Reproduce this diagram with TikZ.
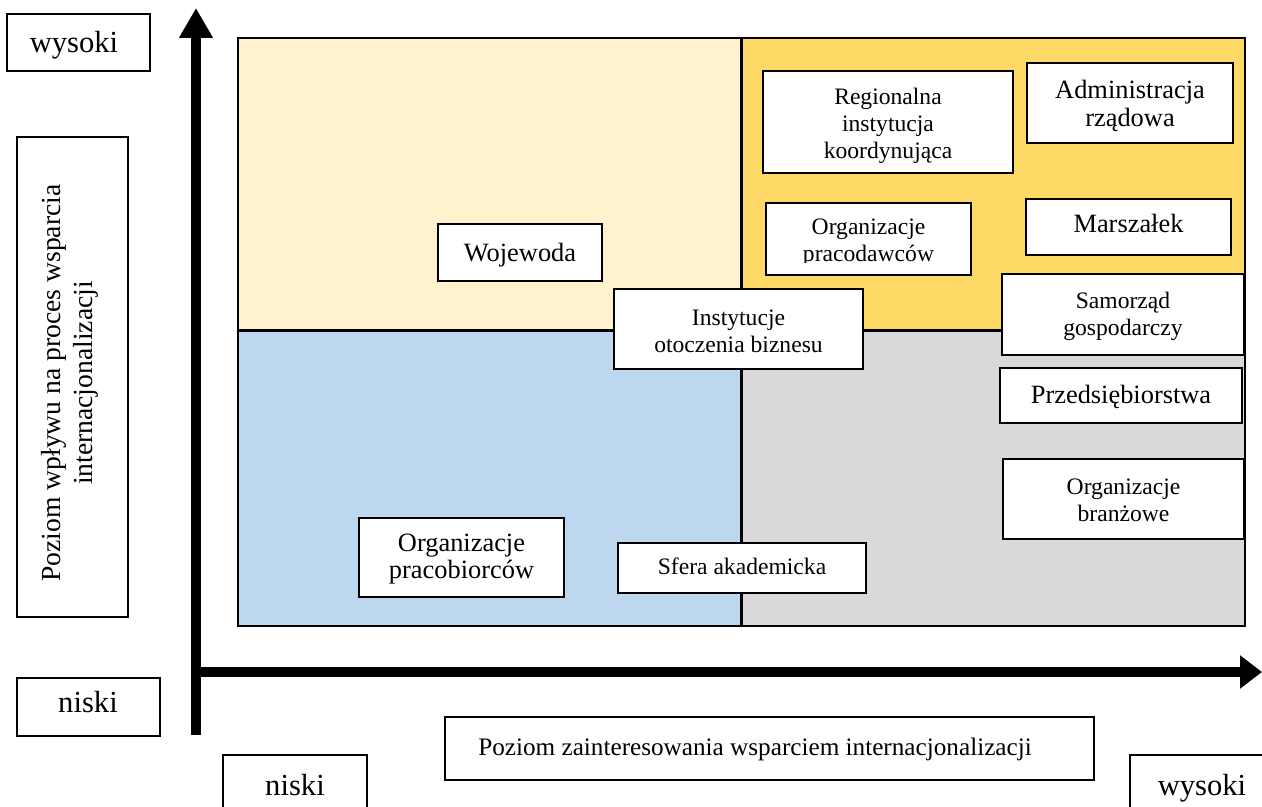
\documentclass[tikz,border=0pt]{standalone}
\usepackage{fontspec}
\setmainfont{Liberation Serif}
\usetikzlibrary{arrows.meta}
\definecolor{qtl}{HTML}{FFF2CC}
\definecolor{qtr}{HTML}{FFD966}
\definecolor{qbl}{HTML}{BDD7EE}
\definecolor{qbr}{HTML}{D9D9D9}
\begin{document}
\begin{tikzpicture}[x=0.5pt,y=-0.5pt,
  box/.style={draw=black, line width=1pt, fill=white, inner sep=0pt, align=center},
  sz/.style 2 args={minimum width=#1*0.5pt, minimum height=#2*0.5pt},
  big/.style={font=\fontsize{13.2}{14}\selectfont},
  small/.style={font=\fontsize{11.8}{13.5}\selectfont},
  corner/.style={font=\fontsize{15.3}{17}\selectfont, inner sep=0pt, anchor=base},
  txt/.style={inner sep=0pt, align=center},
  axisarrow/.style={line width=5pt, draw=black}]
\clip (0,0) rectangle (1262,807);
% quadrants
\fill[qtl] (238,38) rectangle (741,331);
\fill[qtr] (741,38) rectangle (1245,331);
\fill[qbl] (238,331) rectangle (741,626);
\fill[qbr] (741,331) rectangle (1245,626);
\draw[line width=1.5pt] (741,38) -- (741,626);
\draw[line width=1.5pt] (238,331) -- (1245,331);
\draw[line width=1.2pt] (238,38) rectangle (1245,626);
% axes
\coordinate (yb) at (196,735);
\coordinate (yt) at (196,8);
\coordinate (xl) at (191,672);
\coordinate (xr) at (1262,672);
\draw[axisarrow, -{Triangle[length=15pt,width=16pt]}] (yb) -- (yt);
\draw[axisarrow, -{Triangle[length=11pt,width=16pt]}] (xl) -- (xr);
% axis labels
\node[box, sz={143}{57}] (wysTop) at (78.5,42.5) {};
\node[corner] (wysTopT) at (74,53) {wysoki};
\node[box, sz={143}{58}] (nisLeft) at (88.5,707) {};
\node[corner] (nisLeftT) at (88,712) {niski};
\node[box, sz={144}{66}] (nisBot) at (295,788) {};
\node[corner] (nisBotT) at (295,795) {niski};
\node[box, sz={144}{66}] (wysBot) at (1202,788) {};
\node[corner] (wysBotT) at (1202,795) {wysoki};
\node[box, sz={111}{480}] (ylab) at (72.5,377) {};
\node[txt, rotate=90, font=\fontsize{13.8}{16}\selectfont] (ylabT) at (70,383)
  {Poziom wpływu na proces wsparcia\\internacjonalizacji};
\node[box, sz={649}{63}] (xlab) at (769.5,748.5) {};
\node[txt, font=\fontsize{12.6}{14}\selectfont, anchor=base] (xlabT) at (755,755)
  {Poziom zainteresowania wsparciem internacjonalizacji};
% stakeholders
\node[box, sz={164}{57}] (woj) at (520,252.5) {};
\node[txt, big, anchor=base] (wojT) at (520,262) {Wojewoda};
\node[box, sz={250}{102}] (reg) at (888,122) {};
\node[txt, small] (regT) at (888,126) {Regionalna\\instytucja\\koordynująca};
\node[box, sz={206}{80}] (adm) at (1130,103) {};
\node[txt, big] (admT) at (1130,106) {Administracja\\rządowa};
\node[box, sz={205}{72}] (opd) at (868.5,239) {};
\begin{scope}
\clip (766,203) rectangle (971,263);
\node[txt, small] (opdText) at (868.5,243) {Organizacje\\pracodawców};
\end{scope}
\node[box, sz={205}{56}] (mar) at (1128.5,227) {};
\node[txt, big, anchor=base] (marT) at (1128.5,233) {Marszałek};
\node[box, sz={249}{80}] (iob) at (738.5,329) {};
\node[txt, small] (iobT) at (738.5,331) {Instytucje\\otoczenia biznesu};
\node[box, sz={242}{81}] (sam) at (1123,314.5) {};
\node[txt, small] (samT) at (1123,316) {Samorząd\\gospodarczy};
\node[box, sz={242}{55}] (prz) at (1121,395.5) {};
\node[txt, big, anchor=base] (przT) at (1121,403) {Przedsiębiorstwa};
\node[box, sz={241}{80}] (obr) at (1123.5,499) {};
\node[txt, small] (obrT) at (1123.5,500) {Organizacje\\branżowe};
\node[box, sz={205}{79}] (opb) at (461.5,557.5) {};
\node[txt, font=\fontsize{13.2}{13.6}\selectfont] (opbT) at (461.5,559) {Organizacje\\pracobiorców};
\node[box, sz={248}{50}] (sfe) at (742,568) {};
\node[txt, small, anchor=base] (sfeT) at (742,574) {Sfera akademicka};
\end{tikzpicture}
\end{document}
